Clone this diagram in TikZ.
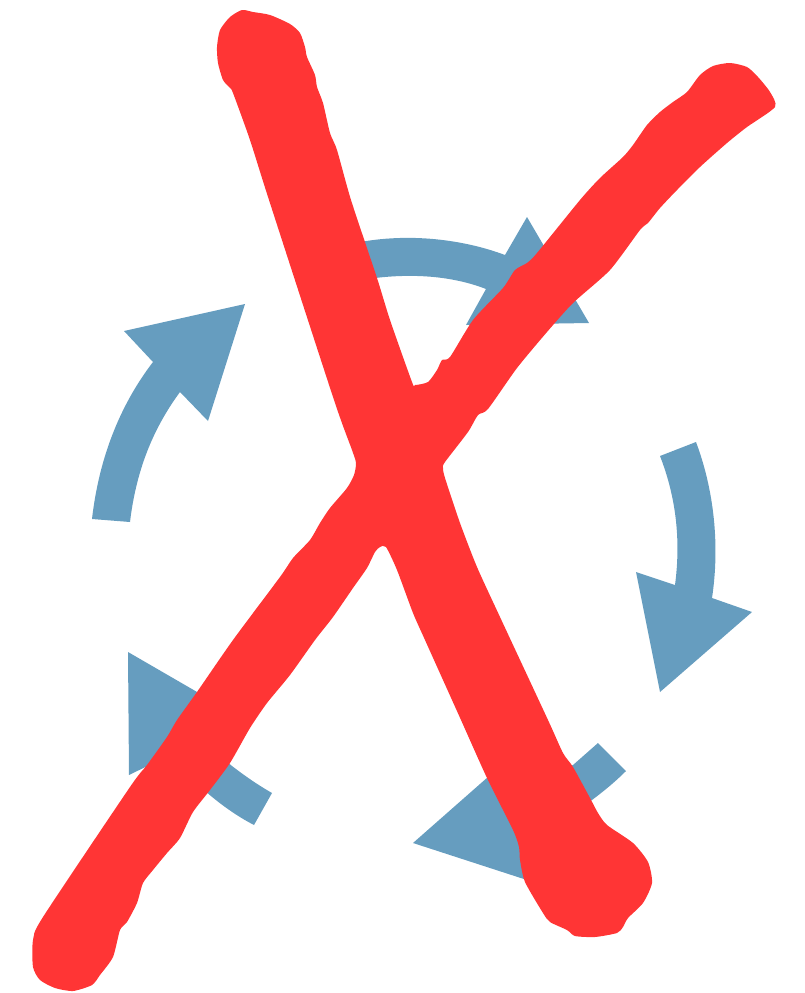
\documentclass[tikz,border=0pt]{standalone}
\usepackage{tikz}

\begin{document}
\begin{tikzpicture}[
    x=1pt, y=-1pt,
    bluearrow/.style={fill=arrowblue, draw=none},
    redcross/.style={fill=crossred, draw=none}
]
\definecolor{arrowblue}{HTML}{669DBF}
\definecolor{crossred}{HTML}{FF3535}
\useasboundingbox (0,0) rectangle (805,993);

% arrows of the circle
\fill[bluearrow] (92,519) .. controls (99,458) and (120,405) .. (153,362) -- (124,331) -- (245,304) -- (208,421) -- (180,392) .. controls (152,430) and (136,472) .. (130,522) -- cycle;
\fill[bluearrow] (527,217) -- (589,323) -- (466,325) -- (486,289) .. controls (450,275) and (405,272) .. (355,281) -- (355,243) .. controls (410,232) and (465,240) .. (505,255) -- cycle;
\fill[bluearrow] (660,456) -- (696,442) .. controls (714,490) and (720,545) .. (712,598) -- (752,612) -- (660,692) -- (636,572) -- (675,585) .. controls (681,540) and (676,497) .. (660,456) -- cycle;
\fill[bluearrow] (626,771) -- (598,743) -- (573,765) -- (511,790) -- (505,762) -- (413,843) -- (530,881) -- (523,850) -- (592,800) .. controls (604,791) and (615,782) .. (626,771) -- cycle;
\fill[bluearrow] (128,652) -- (242,718) -- (200,739) -- (232,766) .. controls (245,776) and (258,785) .. (272,793) -- (254,825) .. controls (225,810) and (195,785) .. (170,755) -- (129,775) -- cycle;

% the cross
\fill[redcross] plot[smooth cycle, tension=0.4] coordinates {
(217,47) (220,30) (230,17) (242,10) (253,12) (270,15) (290,24) (300,33) (305,47) (307,57) (315,75) (317,87) (323,103) (330,133) (337,150) (351,200)
(377,278) (390,320) (412,382) (415,385) (428,382) (437,370) (442,360) (450,357) (473,320) (503,288) (515,270) (527,263) (537,253) (580,200)
(600,178) (623,157) (633,145) (647,125) (660,112) (673,102) (687,92) (700,75) (713,66) (730,63) (747,67) (758,77) (770,92) (775,107)
(747,127) (727,143) (700,167) (677,190) (660,208) (648,223) (640,230) (610,270) (573,303) (547,332) (517,368) (488,409) (478,415) (468,432) (445,462) (443,468) (445,478)
(460,523) (477,567) (500,617) (548,720) (563,753) (573,767) (590,798) (598,813) (607,825) (633,843) (648,862) (652,883) (643,903) (628,918) (623,927) (617,933) (595,937) (575,936) (567,930) (550,922) (543,913) (525,882) (520,860) (519,847) (513,830) (487,778) (461,720) (425,640) (413,613) (397,570) (386,547) (380,547) (375,552) (367,568) (353,588) (333,617) (315,640)
(290,675) (267,703) (250,728) (230,763) (210,790) (193,812) (180,838) (167,853) (153,870) (143,883) (137,903) (127,922) (120,930) (113,957) (100,975) (92,985) (73,991) (55,988) (40,980) (33,967) (33,940) (43,917)
(130,787) (147,765) (167,737) (177,720) (197,692) (233,640) (280,577) (293,558) (310,540) (320,523) (330,508) (347,488) (354,475) (356,463) (352,450) (334,400) (269,200) (250,140) (233,93) (230,88) (223,80) (218,63)};
\end{tikzpicture}
\end{document}
